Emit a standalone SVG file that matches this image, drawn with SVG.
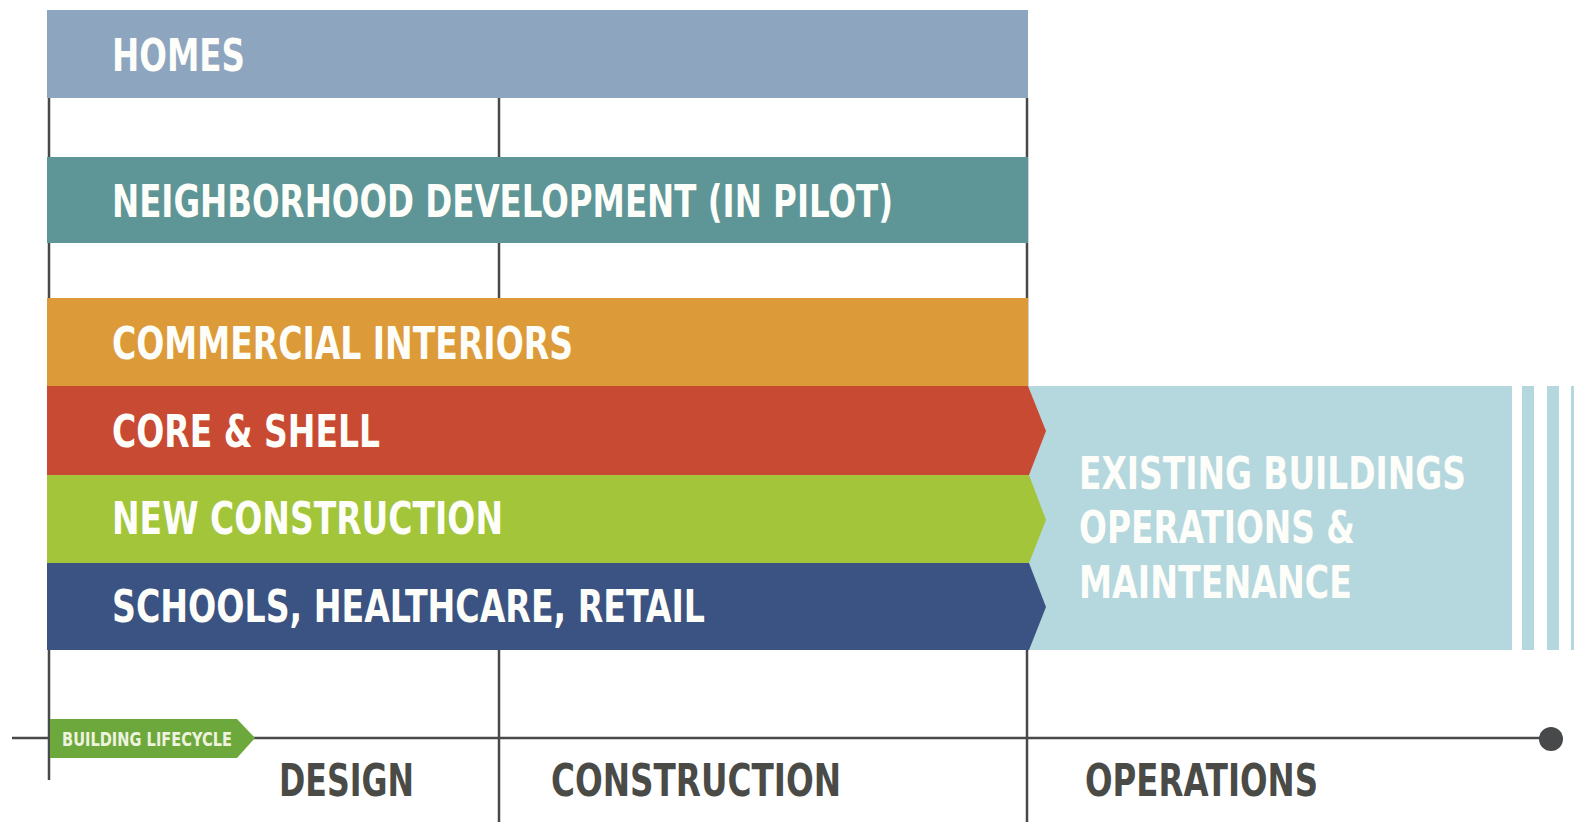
<svg xmlns="http://www.w3.org/2000/svg" width="1574" height="822" viewBox="0 0 1574 822">
<style>
.lbl{font-family:"Liberation Sans Narrow","DejaVu Sans Condensed","Liberation Sans",sans-serif;font-weight:bold;fill:#FDFDF9;font-size:45px}
.ax{font-family:"Liberation Sans Narrow","DejaVu Sans Condensed","Liberation Sans",sans-serif;font-weight:bold;fill:#4A4B47;font-size:45px}
.tag{font-family:"Liberation Sans Narrow","DejaVu Sans Condensed","Liberation Sans",sans-serif;font-weight:bold;fill:#EEF3DF;font-size:19px}
.ln{stroke:#48494A;stroke-width:2.5;fill:none}
</style>
<rect width="1574" height="822" fill="#FFFFFF"/>
<g id="connectors">
<line class="ln" x1="49" y1="98" x2="49" y2="780"/>
<line class="ln" x1="499" y1="98" x2="499" y2="822"/>
<line class="ln" x1="1027" y1="98" x2="1027" y2="822"/>
<line class="ln" x1="12" y1="738" x2="1550" y2="738"/>
<circle cx="1551" cy="739" r="12" fill="#48494A"/>
</g>
<g id="existing-buildings">
<rect x="1027" y="386" width="485" height="264" fill="#B5D7DE"/>
<rect x="1522" y="386" width="12" height="264" fill="#B5D7DE"/>
<rect x="1547" y="386" width="12" height="264" fill="#B5D7DE"/>
<rect x="1571" y="386" width="3" height="264" fill="#B5D7DE"/>
<text class="lbl" x="1079" y="489" textLength="387" lengthAdjust="spacingAndGlyphs">EXISTING BUILDINGS</text>
<text class="lbl" x="1079" y="543" textLength="276" lengthAdjust="spacingAndGlyphs">OPERATIONS &amp;</text>
<text class="lbl" x="1079" y="598" textLength="273" lengthAdjust="spacingAndGlyphs">MAINTENANCE</text>
</g>
<g id="homes">
<rect x="47" y="10" width="981" height="88" fill="#8EA5C0"/>
<text class="lbl" x="112" y="71" textLength="133" lengthAdjust="spacingAndGlyphs">HOMES</text>
</g>
<g id="neighborhood-development">
<rect x="47" y="157" width="981" height="86" fill="#5E9596"/>
<text class="lbl" x="112" y="217" textLength="781" lengthAdjust="spacingAndGlyphs">NEIGHBORHOOD DEVELOPMENT (IN PILOT)</text>
</g>
<g id="commercial-interiors">
<rect x="47" y="298" width="981" height="88" fill="#DD9A38"/>
<text class="lbl" x="112" y="359" textLength="461" lengthAdjust="spacingAndGlyphs">COMMERCIAL INTERIORS</text>
</g>
<g id="core-shell">
<polygon points="47,386 1028,386 1046,431 1029,475 47,475" fill="#C94A32"/>
<text class="lbl" x="112" y="447" textLength="268" lengthAdjust="spacingAndGlyphs">CORE &amp; SHELL</text>
</g>
<g id="new-construction">
<polygon points="47,475 1029,475 1046,520 1029,563 47,563" fill="#A3C53A"/>
<text class="lbl" x="112" y="534" textLength="391" lengthAdjust="spacingAndGlyphs">NEW CONSTRUCTION</text>
</g>
<g id="schools-healthcare-retail">
<polygon points="47,563 1029,563 1046,607 1029,650 47,650" fill="#3A5382"/>
<text class="lbl" x="112" y="622" textLength="593" lengthAdjust="spacingAndGlyphs">SCHOOLS, HEALTHCARE, RETAIL</text>
</g>
<g id="building-lifecycle">
<polygon points="50,719 237,719 255,738 237,758 50,758" fill="#6DA83C"/>
<text class="tag" x="62" y="746" textLength="170" lengthAdjust="spacingAndGlyphs">BUILDING LIFECYCLE</text>
</g>
<g id="phase-design">
<text class="ax" x="279" y="796" textLength="135" lengthAdjust="spacingAndGlyphs">DESIGN</text>
</g>
<g id="phase-construction">
<text class="ax" x="551" y="796" textLength="290" lengthAdjust="spacingAndGlyphs">CONSTRUCTION</text>
</g>
<g id="phase-operations">
<text class="ax" x="1085" y="796" textLength="233" lengthAdjust="spacingAndGlyphs">OPERATIONS</text>
</g>
</svg>
